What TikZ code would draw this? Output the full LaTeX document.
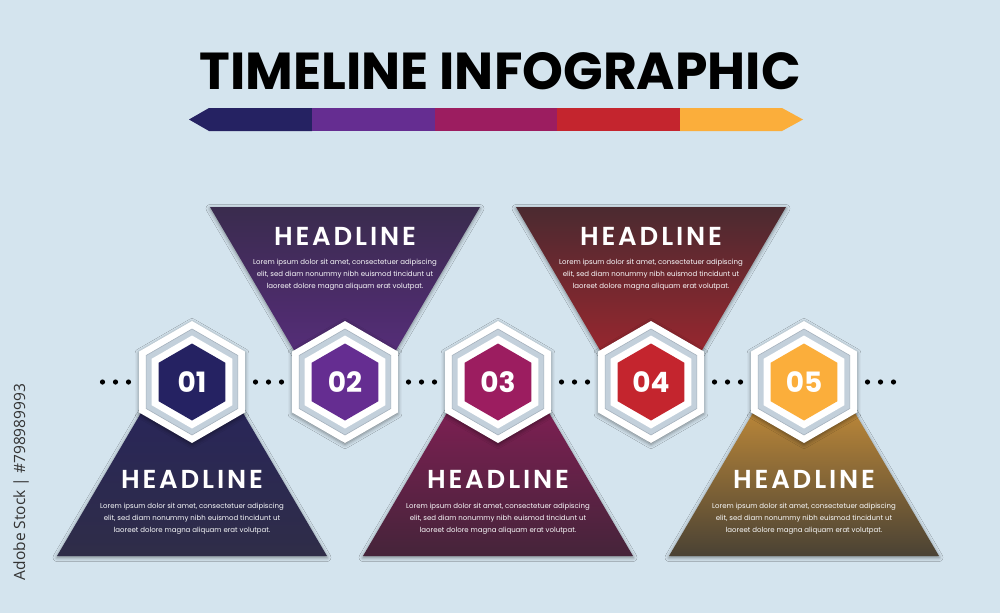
\documentclass[tikz,border=0pt]{standalone}
\usepackage{fontspec}
\setmainfont{Poppins}
\newfontfamily\popsemi{Poppins SemiBold}
\newfontfamily\stockfont{Open Sans}
\usetikzlibrary{shapes.geometric,shadows.blur,calc}
\definecolor{bgblue}{HTML}{D4E4EE}
\definecolor{cnavy}{HTML}{252262}
\definecolor{cpurple}{HTML}{652D91}
\definecolor{cmagenta}{HTML}{9C1D60}
\definecolor{cred}{HTML}{C4252E}
\definecolor{corange}{HTML}{FBAE3B}
\definecolor{navyend}{HTML}{2F2D48}
\definecolor{purpletop}{HTML}{3A2C4E}
\definecolor{magentaend}{HTML}{45243A}
\definecolor{redtop}{HTML}{4B2A30}
\definecolor{orangeend}{HTML}{4A4234}
\definecolor{ringgrey}{HTML}{C3D0DB}
\definecolor{ringline}{HTML}{A5B1BD}

\begin{document}
\begin{tikzpicture}[x=1pt, y=-1pt,
  softshadow/.style={blur shadow={shadow xshift=0pt, shadow yshift=-1.5pt, shadow blur radius=4pt, shadow opacity=45}},
  hexout/.style={regular polygon, regular polygon sides=6, shape border rotate=30, inner sep=0pt, minimum size=122pt, fill=white, softshadow},
  hexring/.style={regular polygon, regular polygon sides=6, shape border rotate=30, inner sep=0pt, minimum size=106pt, fill=ringgrey, draw=ringline, line width=0.6pt},
  hexwhite/.style={regular polygon, regular polygon sides=6, shape border rotate=30, inner sep=0pt, minimum size=93pt, fill=white},
  hexcore/.style={regular polygon, regular polygon sides=6, shape border rotate=30, inner sep=0pt, minimum size=77pt, text=white, font=\bfseries\fontsize{28}{28}\selectfont},
  headline/.style={text=white, font=\popsemi\fontsize{26}{26}\selectfont\addfontfeatures{LetterSpace=11}},
  bodytext/.style={text=white!90!bgblue, align=center, font=\fontsize{7}{12.2}\selectfont}]
\useasboundingbox[fill=bgblue] (0,0) rectangle (1000,613);

% title and colour bar
\node[font=\bfseries\fontsize{52}{52}\selectfont] (title) at (500,71) {TIMELINE INFOGRAPHIC};
\fill[cnavy] (189,119.5) -- (209,108) -- (312,108) -- (312,131) -- (209,131) -- cycle;
\fill[cpurple] (312,108) rectangle (435,131);
\fill[cmagenta] (435,108) rectangle (557,131);
\fill[cred] (557,108) rectangle (680,131);
\fill[corange] (680,108) -- (782,108) -- (803,119.5) -- (782,131) -- (680,131) -- cycle;

% side label
\node[rotate=90, text=black!80, font=\stockfont\fontsize{15.5}{15.5}\selectfont] (stock) at (21,482) {Adobe Stock | \#798989993};

% triangles with text
\foreach \i/\x/\by/\ay/\hy/\ty/\tc/\bc in {
  1/192/556/326/479.5/519/cnavy/navyend,
  2/345/207/437/236.5/275/purpletop/cpurple,
  3/498/556/326/479.5/519/cmagenta/magentaend,
  4/651/207/437/236.5/275/redtop/cred,
  5/804/556/326/479.5/519/corange/orangeend}{
  \shade[top color=\tc, bottom color=\bc, softshadow] ({\x-135},\by) -- ({\x+135},\by) -- (\x,\ay) -- cycle;
  \node[headline] (head\i) at (\x,\hy) {HEADLINE};
  \node[bodytext] (body\i) at (\x,\ty) {Lorem ipsum dolor sit amet, consectetuer adipiscing\\elit, sed diam nonummy nibh euismod tincidunt ut\\laoreet dolore magna aliquam erat volutpat.};
}

% dotted links
\foreach \m in {0,...,5}
  \foreach \d in {-13,0,13}
    \fill ({115.5+153*\m+\d},382) circle (2.6);

% numbered hexagons
\foreach \i/\x/\c in {1/192/cnavy, 2/345/cpurple, 3/498/cmagenta, 4/651/cred, 5/804/corange}{
  \node[hexout] (h\i) at (\x,382) {};
  \node[hexring] (r\i) at (h\i) {};
  \node[hexwhite] (w\i) at (h\i) {};
  \node[hexcore, fill=\c] (n\i) at (h\i) {0\i};
}
\end{tikzpicture}
\end{document}
